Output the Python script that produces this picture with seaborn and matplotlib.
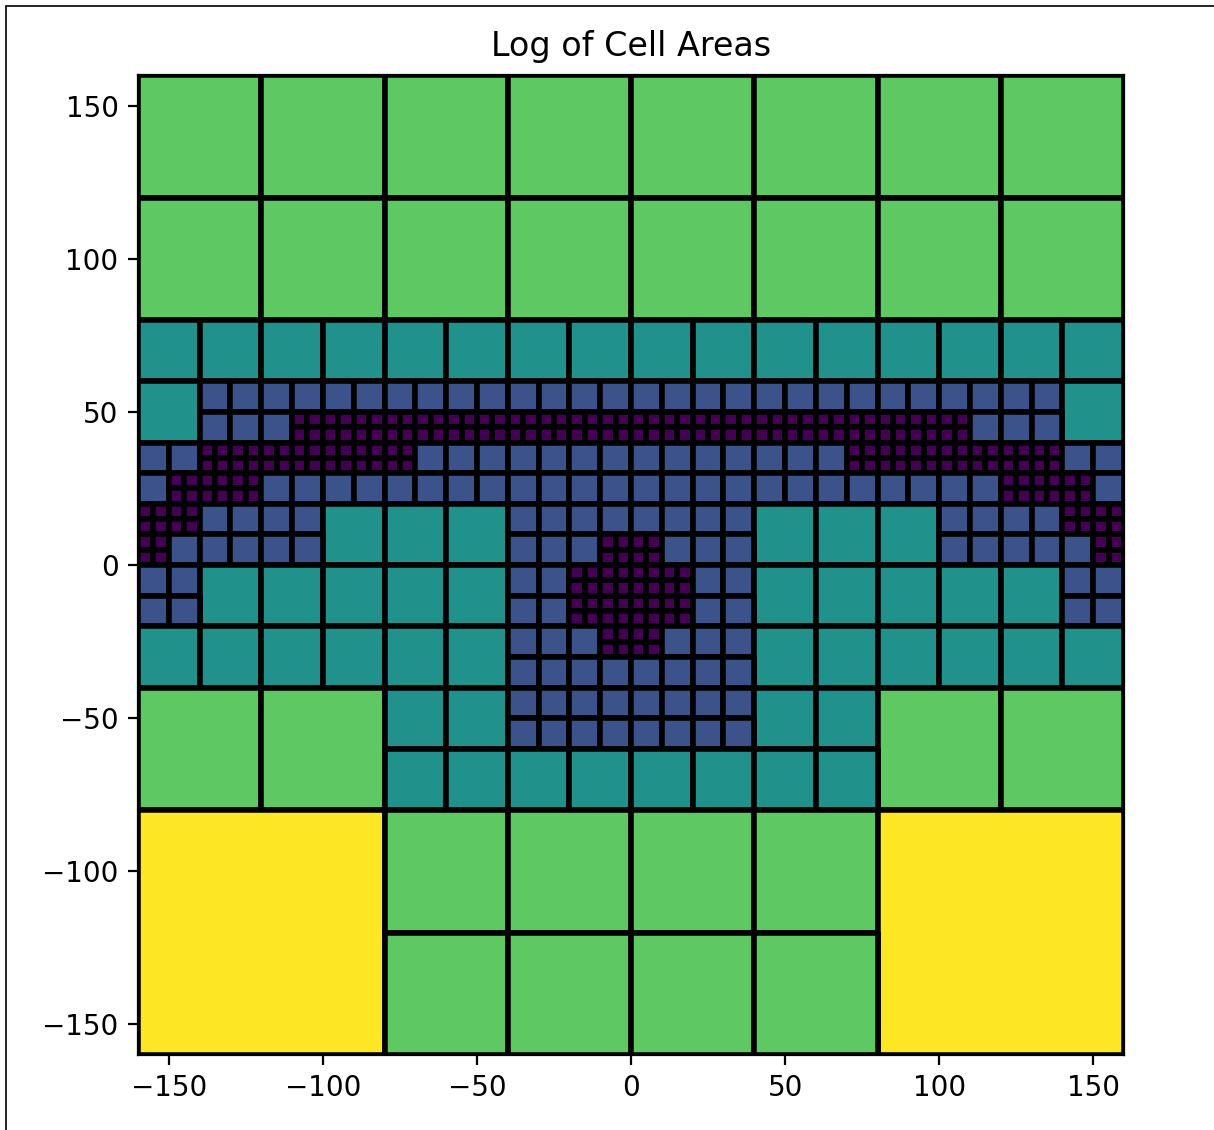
import numpy as np
import matplotlib
matplotlib.use("Agg")
import matplotlib.pyplot as plt
from matplotlib.patches import Rectangle
from matplotlib.collections import PatchCollection
from matplotlib.lines import Line2D
import seaborn as sns

# Tree mesh on [-160, 160] x [-160, 160].
# Each character is the refinement level covering a 10 x 10 block
# (rows run from the top, y = 160, downwards; written in chunks of 8 columns):
#   2 -> 80 wide cell, 3 -> 40, 4 -> 20, 5 -> 10, 6 -> block split into 5 x 5 cells
mesh_levels = [
    "33333333" "33333333" "33333333" "33333333",
    "33333333" "33333333" "33333333" "33333333",
    "33333333" "33333333" "33333333" "33333333",
    "33333333" "33333333" "33333333" "33333333",
    "33333333" "33333333" "33333333" "33333333",
    "33333333" "33333333" "33333333" "33333333",
    "33333333" "33333333" "33333333" "33333333",
    "33333333" "33333333" "33333333" "33333333",
    "44444444" "44444444" "44444444" "44444444",
    "44444444" "44444444" "44444444" "44444444",
    "44555555" "55555555" "55555555" "55555544",
    "44555666" "66666666" "66666666" "66655544",
    "55666666" "65555555" "55555556" "66666655",
    "56665555" "55555555" "55555555" "55556665",
    "66555544" "44445555" "55554444" "44555566",
    "65555544" "44445556" "65554444" "44555556",
    "55444444" "44445566" "66554444" "44444455",
    "55444444" "44445566" "66554444" "44444455",
    "44444444" "44445556" "65554444" "44444444",
    "44444444" "44445555" "55554444" "44444444",
    "33333333" "44445555" "55554444" "33333333",
    "33333333" "44445555" "55554444" "33333333",
    "33333333" "44444444" "44444444" "33333333",
    "33333333" "44444444" "44444444" "33333333",
    "22222222" "33333333" "33333333" "22222222",
    "22222222" "33333333" "33333333" "22222222",
    "22222222" "33333333" "33333333" "22222222",
    "22222222" "33333333" "33333333" "22222222",
    "22222222" "33333333" "33333333" "22222222",
    "22222222" "33333333" "33333333" "22222222",
    "22222222" "33333333" "33333333" "22222222",
    "22222222" "33333333" "33333333" "22222222",
]
domain_min = -160.0
domain_max = 160.0
block_size = 10.0

x_ticks = [-150, -100, -50, 0, 50, 100, 150]
y_ticks = [-150, -100, -50, 0, 50, 100, 150]
title_text = "Log of Cell Areas"


def build_cells(levels):
    """Return (x0, y0, width) for every leaf cell of the tree."""
    cells = []
    for r, row in enumerate(levels):
        for c, ch in enumerate(row):
            lev = int(ch)
            x_left = domain_min + c * block_size
            y_top = domain_max - r * block_size
            if lev <= 5:
                n = 2 ** (5 - lev)
                if r % n == 0 and c % n == 0:
                    size = n * block_size
                    cells.append((x_left, y_top - size, size))
            else:
                half = block_size / 2
                for dx in (0.0, half):
                    for dy in (half, 2 * half):
                        cells.append((x_left + dx, y_top - dy, half))
    return cells


cells = build_cells(mesh_levels)
log_area = np.log(np.array([w * w for _, _, w in cells]))

sns.set_style("ticks", rc={
    "axes.edgecolor": "black",
    "xtick.color": "black",
    "ytick.color": "black",
    "text.color": "black",
    "axes.labelcolor": "black",
})
plt.rcParams["font.family"] = ["DejaVu Sans"]
plt.rcParams["font.size"] = 10

fig = plt.figure(figsize=(6.07, 5.65), dpi=200)
ax = fig.add_axes([138 / 1214, 1 - 1055 / 1130, 986 / 1214, 980 / 1130])

cmap = sns.color_palette("viridis", as_cmap=True)
patches = [Rectangle((x0, y0), w, w) for x0, y0, w in cells]
pc = PatchCollection(patches, cmap=cmap, edgecolor="black", linewidth=2.0)
pc.set_array(log_area)
pc.set_clim(np.log(25.0), np.log(6400.0))
ax.add_collection(pc)

ax.set_xlim(domain_min, domain_max)
ax.set_ylim(domain_min, domain_max)
ax.set_xticks(x_ticks)
ax.set_yticks(y_ticks)
ax.tick_params(direction="out", length=3.5, width=0.8, labelsize=10)
for sp in ax.spines.values():
    sp.set_linewidth(0.8)
    sp.set_zorder(3)
ax.set_title(title_text, fontsize=12, pad=7)

# thin frame along the left and top edges of the figure
fx = 5.5 / 1214
fy = 1 - 5.5 / 1130
fig.add_artist(Line2D([fx, fx], [0, fy], transform=fig.transFigure, color="black", lw=0.6))
fig.add_artist(Line2D([fx, 1], [fy, fy], transform=fig.transFigure, color="black", lw=0.6))

fig.savefig("out.png", dpi=200)
